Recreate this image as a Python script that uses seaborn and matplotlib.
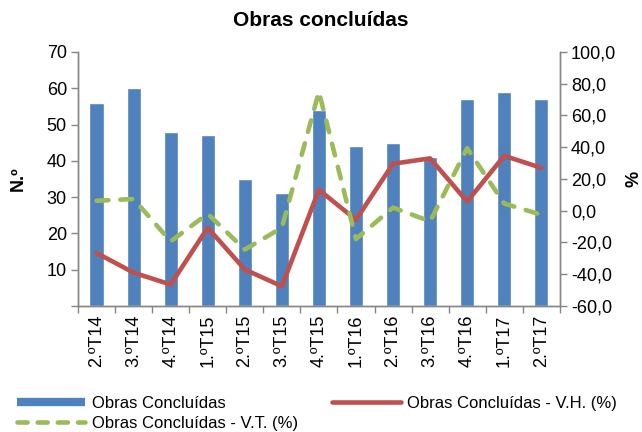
import numpy as np
import pandas as pd
import matplotlib
matplotlib.use('Agg')
import matplotlib.pyplot as plt
from matplotlib.lines import Line2D
import seaborn as sns

# --- data ---
quarters = ['2.ºT14', '3.ºT14', '4.ºT14', '1.ºT15', '2.ºT15', '3.ºT15', '4.ºT15',
            '1.ºT16', '2.ºT16', '3.ºT16', '4.ºT16', '1.ºT17', '2.ºT17']
obras = [56, 60, 48, 47, 35, 31, 54, 44, 45, 41, 57, 59, 57]
var_homologa = [-26.6, -39.0, -46.5, -10.7, -37.0, -47.6, 13.2, -5.7, 29.6, 33.0, 5.8, 34.6, 27.0]
var_trimestral = [6.3, 7.4, -19.3, -1.9, -24.5, -10.7, 75.0, -17.8, 2.0, -6.7, 39.4, 4.5, -2.5]

BLUE = '#4F81BD'
RED = '#C0504D'
GREEN = '#9BBB59'
GREY = '#868686'

sns.set_theme(style='white')
plt.rcParams['font.family'] = ['Liberation Sans', 'DejaVu Sans']
plt.rcParams['text.color'] = 'black'
plt.rcParams['axes.labelcolor'] = 'black'

df = pd.DataFrame({'trimestre': quarters, 'obras': obras,
                   'vh': var_homologa, 'vt': var_trimestral,
                   'pos': np.arange(len(quarters))})

fig = plt.figure(figsize=(6.42, 4.32), dpi=100)
ax = fig.add_axes([0.1215, 0.2917, 0.7505, 0.588])

sns.barplot(data=df, x='trimestre', y='obras', color=BLUE, width=0.38,
            saturation=1, ax=ax)
ax.set_ylim(0, 70)
ax.set_yticks(range(0, 71, 10))
ax.set_yticklabels(['', '10', '20', '30', '40', '50', '60', '70'])
ax.set_xlim(-0.5, len(quarters) - 0.5)
ax.set_xlabel('')
ax.set_ylabel('N.º', fontsize=13, fontweight='bold', labelpad=14)

ax2 = ax.twinx()
sns.lineplot(data=df, x='pos', y='vh', color=RED, linewidth=3.3, ax=ax2)
sns.lineplot(data=df, x='pos', y='vt', color=GREEN, linewidth=3.3, ax=ax2)
ax2.lines[0].set_solid_joinstyle('round')
ax2.lines[1].set_dashes([2.6, 2.6])
ax2.lines[1].set_dash_capstyle('round')
ax2.set_ylim(-60, 100)
ax2.set_yticks(range(-60, 101, 20))
ax2.set_yticklabels([f'{v},0' for v in range(-60, 101, 20)])
ax2.set_ylabel('%', fontsize=13, fontweight='bold', labelpad=7)
ax2.set_xlim(-0.5, len(quarters) - 0.5)
ax2.set_xlabel('')

for a in (ax, ax2):
    for s in a.spines.values():
        s.set_color(GREY)
        s.set_linewidth(1)
    a.spines['top'].set_visible(False)
    a.tick_params(axis='y', labelsize=13, colors='black', length=5,
                  width=1, direction='out', color=GREY)
ax.tick_params(axis='y', left=True, right=False, pad=3)
ax2.tick_params(axis='y', right=True, left=False, pad=3)

# category boundary ticks on the x axis
ax.set_xticks(np.arange(len(quarters)))
ax.set_xticklabels(quarters, rotation=90, fontsize=13)
ax.tick_params(axis='x', length=0, pad=6, colors='black')
ax.set_xticks(np.arange(-0.5, len(quarters), 1), minor=True)
ax.tick_params(axis='x', which='minor', bottom=True, length=5, width=1,
               color=GREY, direction='out')
ax2.tick_params(axis='x', which='both', bottom=False, top=False,
                labelbottom=False)

fig.suptitle('Obras concluídas', fontsize=15, fontweight='bold', y=0.975)

handles = [Line2D([0], [0], color=BLUE, linewidth=6, solid_capstyle='butt'),
           Line2D([0], [0], color=GREEN, linewidth=3.3, dashes=[2.2, 2.2],
                  dash_capstyle='round'),
           Line2D([0], [0], color=RED, linewidth=3.3, solid_capstyle='round')]
labels = ['Obras Concluídas', 'Obras Concluídas - V.T. (%)',
          'Obras Concluídas - V.H. (%)']
fig.legend(handles, labels, loc='lower left', bbox_to_anchor=(0.011, -0.021),
           ncol=2, frameon=False, fontsize=12, handlelength=4.1,
           handletextpad=0.4, columnspacing=2.05, labelspacing=0.3,
           borderaxespad=0.2)

fig.savefig('out.png', dpi=100)
